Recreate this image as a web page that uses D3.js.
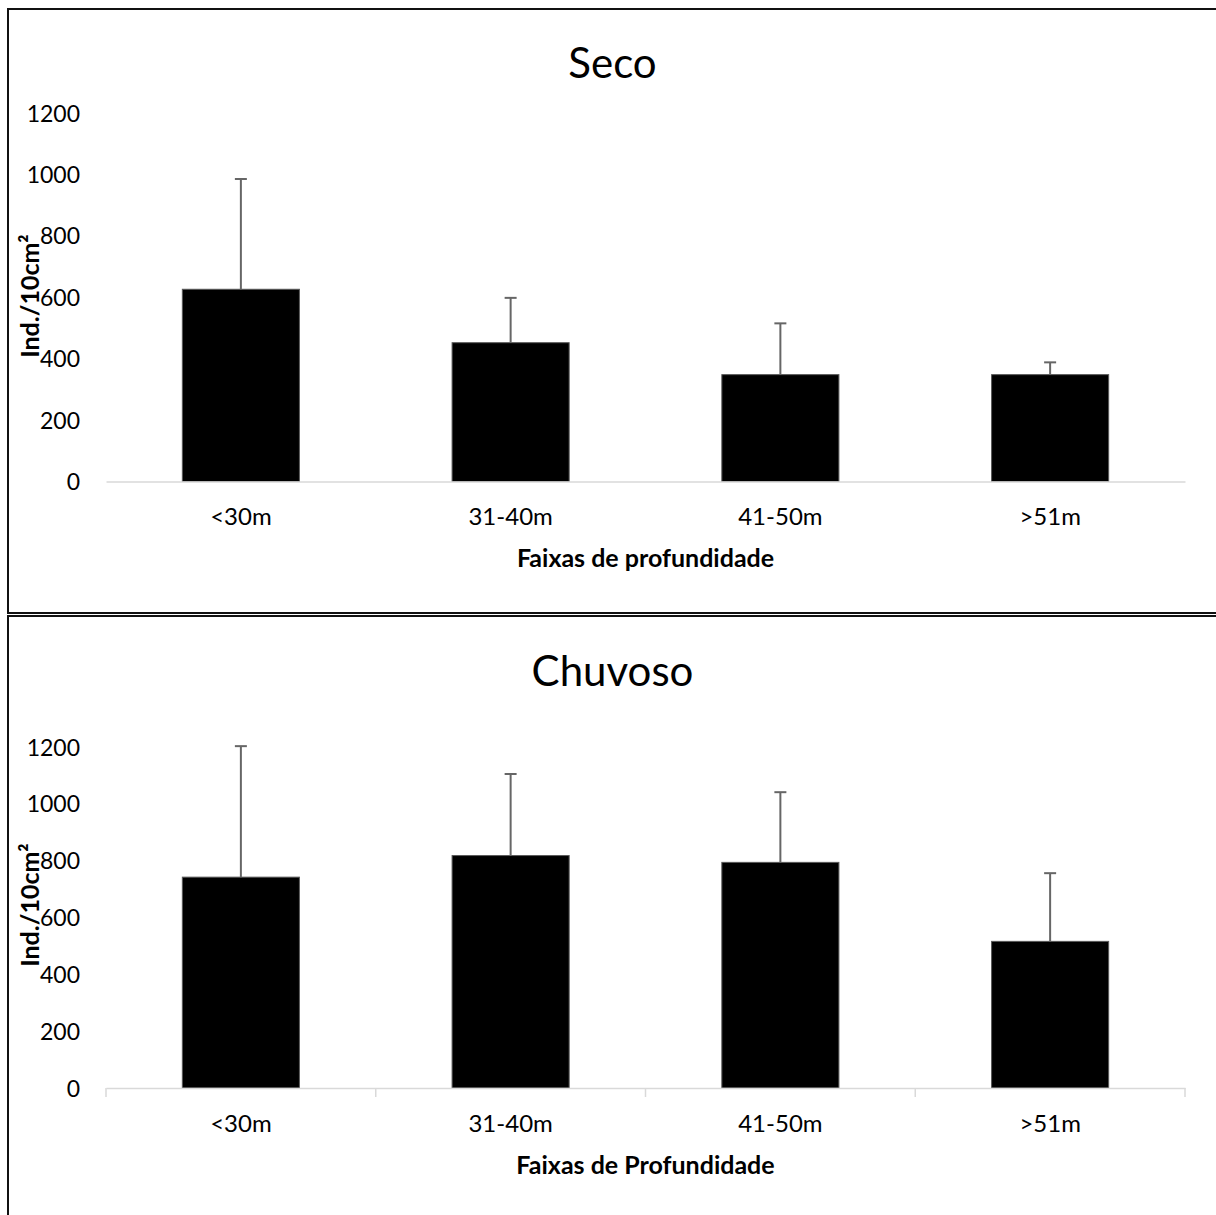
<!DOCTYPE html>
<html>
<head>
<meta charset="utf-8">
<script src="https://cdn.jsdelivr.net/npm/d3@7"></script>
<style>
  html, body { margin: 0; padding: 0; background: #fff; }
  svg { display: block; }
  text { font-family: Lato, "Open Sans", sans-serif; fill: #000; }
</style>
</head>
<body>
<script>
// ---- data ----
const categories = ["<30m", "31-40m", "41-50m", ">51m"];
const secoValues = [626, 452, 348, 348];
const secoErrors = [359, 146, 167, 40];
const chuvosoValues = [742, 818, 794, 516];
const chuvosoErrors = [461, 287, 247, 240];
const yTicks = [0, 200, 400, 600, 800, 1000, 1200];
const panelTitles = ["Seco", "Chuvoso"];
const xTitles = ["Faixas de profundidade", "Faixas de Profundidade"];
const yTitle = "Ind./10cm²";

const W = 1216, H = 1215;
const svg = d3.select("body").append("svg").attr("width", W).attr("height", H);

const panels = [
  { title: panelTitles[0], xTitle: xTitles[0], values: secoValues, errors: secoErrors,
    box: [8, 9, 1230, 604], plotTop: 113, plotBottom: 481.5, titleY: 62, catY: 517, xTitleY: 557,
    yLabelY: 296, ticks: false },
  { title: panelTitles[1], xTitle: xTitles[1], values: chuvosoValues, errors: chuvosoErrors,
    box: [8, 616, 1230, 640], plotTop: 747, plotBottom: 1088, titleY: 670, catY: 1124, xTitleY: 1164,
    yLabelY: 905, ticks: true }
];

const plotLeft = 106, plotRight = 1185;

panels.forEach(p => {
  const g = svg.append("g");
  // border
  g.append("rect")
    .attr("x", p.box[0]).attr("y", p.box[1])
    .attr("width", p.box[2]).attr("height", p.box[3])
    .attr("fill", "none").attr("stroke", "#111").attr("stroke-width", 2);

  const x = d3.scaleBand().domain(categories).range([plotLeft, plotRight])
    .paddingInner(0.566).paddingOuter(0.283);
  const xCat = d3.scaleBand().domain(categories).range([plotLeft, plotRight]).padding(0);
  const y = d3.scaleLinear().domain([0, 1200]).range([p.plotBottom, p.plotTop]);

  // title
  g.append("text").attr("x", (plotLeft + plotRight) / 2 - 33).attr("y", p.titleY)
    .attr("text-anchor", "middle").attr("dominant-baseline", "central")
    .style("font-size", "42px").text(p.title);

  // y axis labels
  const yAxis = d3.axisLeft(y).tickValues(yTicks).tickFormat(d3.format("d")).tickSize(0).tickPadding(0);
  const ya = g.append("g").attr("transform", `translate(80,0)`).call(yAxis);
  ya.select(".domain").remove();
  ya.selectAll("text").style("font-family", "Lato, sans-serif").style("font-size", "23px")
    .attr("fill", "#000").attr("dy", "0.35em");

  // bars
  g.selectAll("rect.bar").data(p.values).join("rect").attr("class", "bar")
    .attr("x", (d, i) => x(categories[i]))
    .attr("y", d => y(d))
    .attr("width", x.bandwidth())
    .attr("height", d => y(0) - y(d))
    .attr("fill", "#000").attr("stroke", "#595959").attr("stroke-width", 1);

  // x axis
  const xAxis = d3.axisBottom(xCat).tickSize(0).tickPadding(0);
  const xa = g.append("g").attr("transform", `translate(0,${p.plotBottom})`).call(xAxis);
  xa.select(".domain").attr("stroke", "#d9d9d9").attr("stroke-width", 1.5);
  xa.selectAll("text").style("font-family", "Lato, sans-serif").style("font-size", "24px")
    .attr("fill", "#000").attr("y", p.catY - p.plotBottom).attr("dy", "0.35em");
  if (p.ticks) {
    const bounds = categories.map(c => xCat(c)).concat([plotRight]);
    xa.selectAll("line.bound").data(bounds).join("line").attr("class", "bound")
      .attr("x1", d => d).attr("x2", d => d).attr("y1", 0).attr("y2", 9)
      .attr("stroke", "#d9d9d9").attr("stroke-width", 1.5);
  }

  // error bars
  const eg = g.append("g").attr("stroke", "#666").attr("stroke-width", 2);
  p.values.forEach((v, i) => {
    const cx = x(categories[i]) + x.bandwidth() / 2;
    const top = y(v + p.errors[i]);
    eg.append("line").attr("x1", cx).attr("x2", cx).attr("y1", y(v)).attr("y2", top);
    eg.append("line").attr("x1", cx - 6).attr("x2", cx + 6).attr("y1", top).attr("y2", top);
  });

  // x title
  g.append("text").attr("x", (plotLeft + plotRight) / 2).attr("y", p.xTitleY)
    .attr("text-anchor", "middle").attr("dominant-baseline", "central")
    .style("font-size", "25px").style("font-weight", "bold").text(p.xTitle);

  // y title
  g.append("text").attr("transform", `translate(29,${p.yLabelY}) rotate(-90)`)
    .attr("text-anchor", "middle").attr("dominant-baseline", "central")
    .style("font-size", "25px").style("font-weight", "bold").text(yTitle);
});
</script>
</body>
</html>
